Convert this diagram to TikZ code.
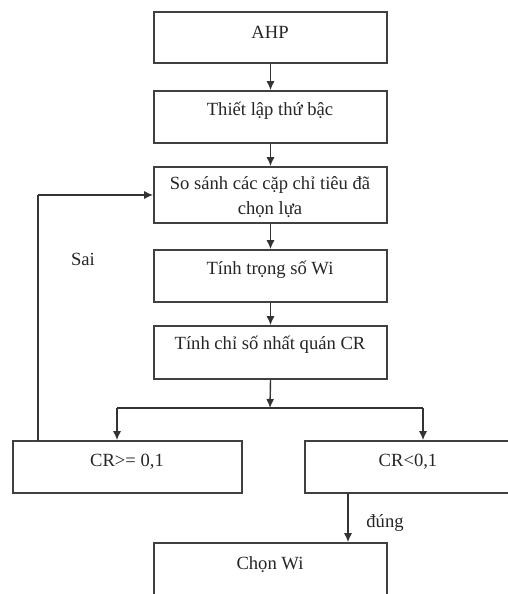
\documentclass[tikz,border=0pt]{standalone}
\usepackage{fontspec}
\setmainfont{Liberation Serif}
\usetikzlibrary{arrows.meta}
\begin{document}
\begin{tikzpicture}[x=1pt,y=-1pt,
  box/.style={draw=black!75, line width=1.6pt, minimum width=233pt, inner sep=0pt},
  txt/.style={anchor=base, inner sep=0pt, text=black!85, font=\fontsize{18.6}{22}\selectfont},
  arr/.style={draw=black!80, line width=1.4pt, -{Latex[length=9pt,width=8pt]}},
  ln/.style={draw=black!80, line width=1.4pt}]
\useasboundingbox (0,0) rectangle (508,594);
\clip (0,0) rectangle (508,594);
\fill[white] (0,0) rectangle (508,594);
% boxes
\node[box, minimum height=51pt] (ahp) at (270.5,37.5) {};
\node[box, minimum height=52pt] (tl) at (270.5,117) {};
\node[box, minimum height=56pt] (ss) at (270.5,195) {};
\node[box, minimum height=52pt] (tt) at (270.5,276) {};
\node[box, minimum height=53pt] (tc) at (270.5,352.5) {};
\node[box, minimum width=229pt, minimum height=52pt] (ge) at (127.5,467) {};
\node[box, minimum width=220pt, minimum height=52pt] (lt) at (415,467) {};
\node[box, minimum height=70pt] (cw) at (270.5,578) {};
% texts
\node[txt] (tahp) at (270,38) {AHP};
\node[txt] (ttl) at (270,115) {Thiết lập thứ bậc};
\node[txt] (tss1) at (270,189) {So sánh các cặp chỉ tiêu đã};
\node[txt] (tss2) at (270,214) {chọn lựa};
\node[txt] (ttt) at (270,274) {Tính trọng số Wi};
\node[txt] (ttc) at (270,349) {Tính chỉ số nhất quán CR};
\node[txt] (tge) at (127,466) {CR>= 0,1};
\node[txt] (tlt) at (408,466) {CR<0,1};
\node[txt] (tcw) at (270,569) {Chọn Wi};
\node[txt] (sai) at (83,265) {Sai};
\node[txt] (dung) at (385,527) {đúng};
% connectors
\draw[arr] (ahp.south) -- (tl.north);
\draw[arr] (tl.south) -- (ss.north);
\draw[arr] (ss.south) -- (tt.north);
\draw[arr] (tt.south) -- (tc.north);
\coordinate (j) at (270,408);
\coordinate (ja) at (117,408);
\coordinate (jb) at (423,408);
\draw[arr] (tc.south) -- (j);
\draw[ln] (ja) -- (jb);
\draw[arr] (ja) -- (ja |- ge.north);
\draw[arr] (jb) -- (jb |- lt.north);
\coordinate (s0) at (38,441);
\coordinate (s1) at (38,195);
\draw[ln] (s0) -- (s1);
\draw[arr] (s1) -- (s1 -| ss.west);
\coordinate (d0) at (348,493);
\draw[arr] (d0) -- (d0 |- cw.north);
\end{tikzpicture}
\end{document}
